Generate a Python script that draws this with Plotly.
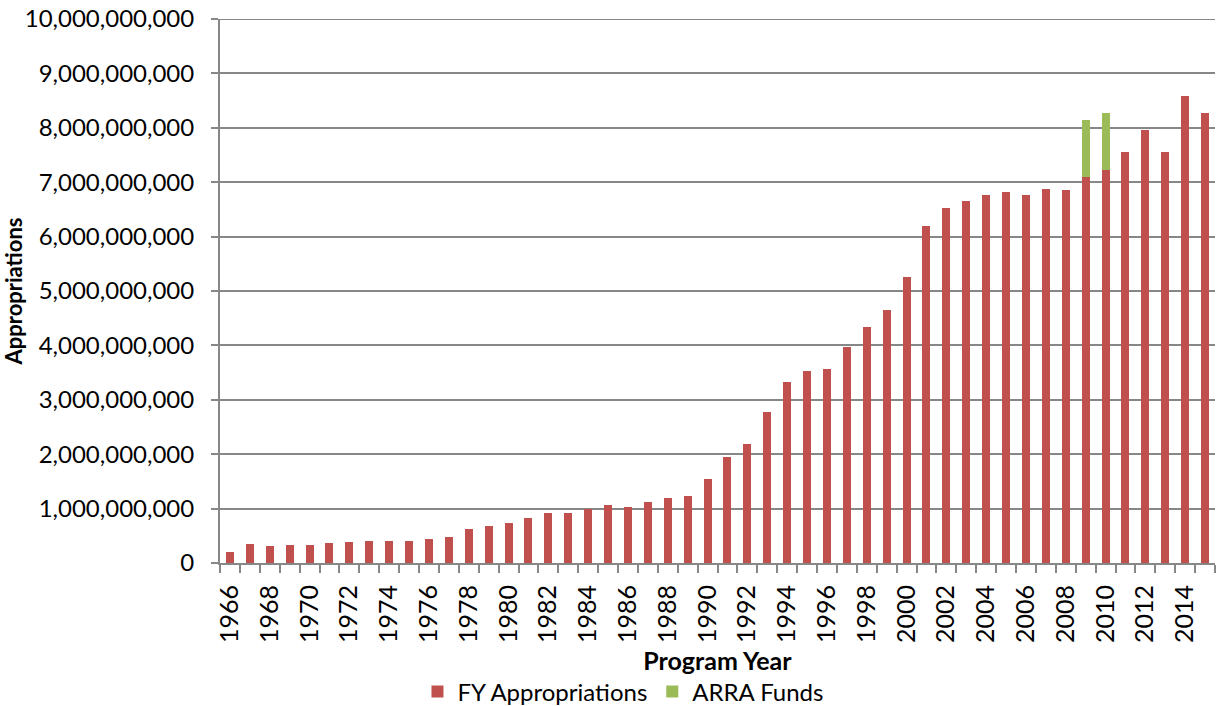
import plotly.graph_objects as go

years = list(range(1966, 2016))
fy_appropriations = [
    0.196, 0.349, 0.318, 0.336, 0.324, 0.361, 0.379, 0.398, 0.398, 0.398,
    0.446, 0.477, 0.630, 0.679, 0.734, 0.820, 0.911, 0.911, 0.997, 1.070,
    1.037, 1.123, 1.196, 1.233, 1.546, 1.945, 2.196, 2.773, 3.319, 3.534,
    3.571, 3.969, 4.344, 4.656, 5.264, 6.190, 6.528, 6.650, 6.761, 6.828,
    6.773, 6.877, 6.865, 7.104, 7.227, 7.552, 7.957, 7.564, 8.589, 8.270,
]
fy_appropriations = [v * 1e9 for v in fy_appropriations]
arra_years = [2009, 2010]
arra_funds = [1.043e9, 1.043e9]

tick_years = list(range(1966, 2016, 2))
y_ticks = [i * 1e9 for i in range(0, 11)]

FONT = "Lato"
GRID = "#878787"

fig = go.Figure()
fig.add_trace(go.Bar(x=years, y=fy_appropriations, name="FY Appropriations",
                     marker=dict(color="#C0504D", line=dict(width=0)), width=0.4))
fig.add_trace(go.Bar(x=arra_years, y=arra_funds, name="ARRA Funds",
                     marker=dict(color="#9BBB59", line=dict(width=0)), width=0.4))

# top gridline (plotly hides grid at the plot edge)
fig.add_shape(type="line", xref="paper", yref="y", x0=0, x1=1,
              y0=y_ticks[-1], y1=y_ticks[-1], line=dict(color=GRID, width=2), layer="below")

fig.update_layout(
    barmode="stack",
    width=1218, height=706,
    margin=dict(l=220, r=3, t=19, b=143, autoexpand=False),
    plot_bgcolor="white", paper_bgcolor="white",
    font=dict(family=FONT, size=23, color="black"),
    showlegend=True,
    legend=dict(orientation="h", x=0.405, xanchor="center",
                y=-0.237, yanchor="middle",
                font=dict(family=FONT, size=24), itemwidth=30, traceorder="normal"),
    xaxis=dict(
        range=[1965.5, 2015.5], automargin=False,
        tickmode="array", tickvals=tick_years, ticktext=[str(y) for y in tick_years],
        tickangle=-90, ticks="", showgrid=False, ticklabelstandoff=10,
        showline=True, linecolor=GRID, linewidth=2,
        tickfont=dict(family=FONT, size=25),
        minor=dict(ticks="outside", tickmode="linear", tick0=1965.5, dtick=1,
                   ticklen=8, tickcolor=GRID, tickwidth=2, showgrid=False),
        title=dict(text="<b>Program Year</b>", font=dict(family=FONT, size=25), standoff=10),
        zeroline=False,
    ),
    yaxis=dict(
        range=[0, 10e9], automargin=False,
        tickmode="array", tickvals=y_ticks,
        ticktext=[f"{int(v):,}" for v in y_ticks],
        ticks="outside", ticklen=7, tickcolor=GRID, tickwidth=2,
        ticklabelstandoff=12, ticklabeloverflow="allow",
        showgrid=True, gridcolor=GRID, gridwidth=2,
        showline=True, linecolor=GRID, linewidth=2,
        zeroline=False,
        tickfont=dict(family=FONT, size=24),
        title=dict(text="<b>Appropriations</b>", font=dict(family=FONT, size=22), standoff=7),
    ),
)

fig.write_html("out.html", config={"displayModeBar": False},
               post_script="document.body.style.margin='0';document.body.style.overflow='hidden';")
